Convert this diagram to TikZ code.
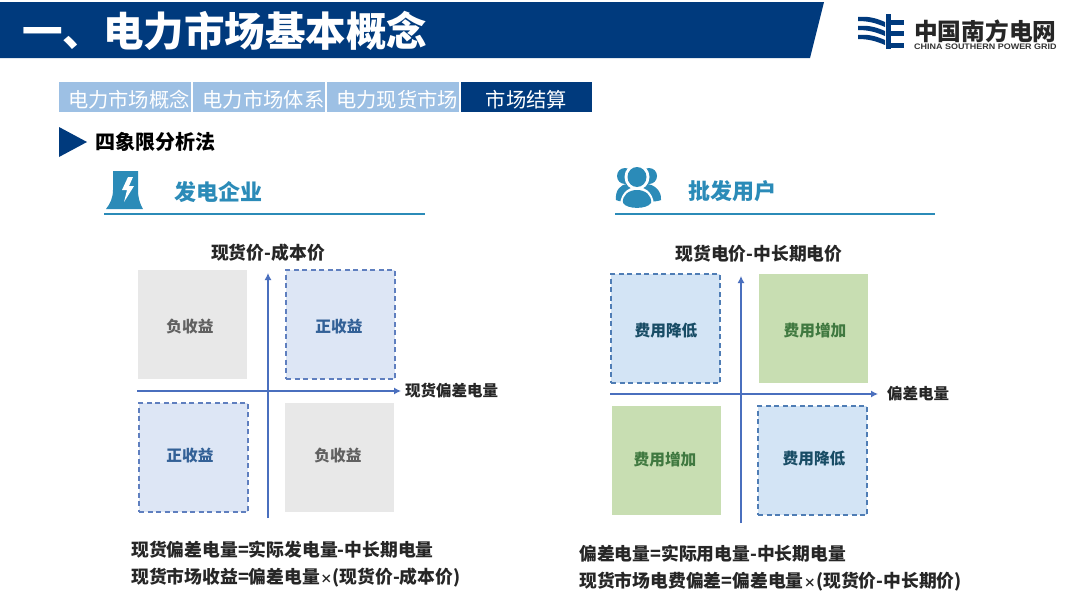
\documentclass[tikz,border=0pt]{standalone}
\usepackage{fontspec}
\setmainfont{Noto Sans CJK SC}
\newfontfamily\latinf{Liberation Sans}
\usetikzlibrary{arrows.meta}
\definecolor{navy}{HTML}{003A7D}
\definecolor{tablight}{HTML}{9DC0E4}
\definecolor{teal}{HTML}{2B8BB8}
\definecolor{axisblue}{HTML}{4A6FBE}
\definecolor{dashblue}{HTML}{5F7FBF}
\definecolor{graybox}{HTML}{E8E8E8}
\definecolor{bluebox}{HTML}{DDE6F5}
\definecolor{skybox}{HTML}{D3E4F5}
\definecolor{greenbox}{HTML}{C8DEB2}
\definecolor{dashsky}{HTML}{4F7DB5}
\definecolor{txt}{HTML}{262626}
\newcommand{\smx}{\makebox[12.5pt]{\fontsize{12}{12}\selectfont ×}}
\tikzset{
 px/.style={x=1pt,y=-1pt},
 tabbox/.style={fill=tablight,minimum width=132pt,minimum height=30pt,inner sep=0pt},
 tabtxt/.style={text=white,inner sep=0pt,font=\fontsize{20.3}{20}\selectfont},
 quad/.style={minimum width=109pt,minimum height=109pt,inner sep=0pt},
 qtext/.style={inner sep=0pt,font=\bfseries\fontsize{15.7}{16}\selectfont},
 grayq/.style={quad,fill=graybox},
 posq/.style={quad,fill=bluebox,draw=dashblue,line width=1.2pt,dash pattern=on 5pt off 3.5pt},
 lowq/.style={quad,fill=skybox,draw=dashsky,line width=1.2pt,dash pattern=on 5pt off 3.5pt},
 upq/.style={quad,fill=greenbox},
 graytxt/.style={qtext,text=black!62},
 postxt/.style={qtext,text=navy!80},
 lowtxt/.style={qtext,text=teal!55!black},
 uptxt/.style={qtext,text=green!30!black!75},
 lbl/.style={inner sep=0pt,text=txt,font=\bfseries\fontsize{17.8}{18}\selectfont},
 formula/.style={lbl,anchor=west,font=\bfseries\fontsize{17.8}{18}\selectfont},
 axis/.style={axisblue,line width=1.3pt,-{Latex[length=7pt,width=7pt]}},
 headt/.style={inner sep=0pt,anchor=west,text=teal,font=\bfseries\fontsize{22}{22}\selectfont},
 rulel/.style={teal,line width=1.5pt},
}
\begin{document}
\begin{tikzpicture}[px]
\useasboundingbox (0,0) rectangle (1080,608);
\fill[white] (0,0) rectangle (1080,608);
% title band
\fill[navy] (0,2) -- (824,2) -- (810,58) -- (0,58) -- cycle;
\node[anchor=west,inner sep=0pt,text=white,font=\bfseries\fontsize{40.5}{41}\selectfont] (title) at (22,31) {一、电力市场基本概念};
% logo
\begin{scope}[navy]
 \fill (886,14) rectangle (891,49);
 \fill (891,20) rectangle (904,25);
 \fill (891,31) rectangle (904,36);
 \fill (891,43) rectangle (904,48);
 \foreach \yy in {17,26,35}{
  \fill (858,\yy) .. controls (868,\yy-1) and (876,\yy+1) .. (885,\yy+5) -- (885,\yy+10) .. controls (876,\yy+6) and (868,\yy+4) .. (858,\yy+4) -- cycle;
 }
\end{scope}
\node[anchor=west,inner sep=0pt,text=black!85,font=\bfseries\fontsize{23.7}{24}\selectfont] (logot) at (914,31) {中国南方电网};
\node[anchor=west,inner sep=0pt,text=black!80,font=\latinf\bfseries\fontsize{8}{8}\selectfont,xscale=1.12] (logoe) at (914,46.5) {CHINA SOUTHERN POWER GRID};
% tabs
\node[tabbox] (t1) at (125,97) {};
\node[tabbox] (t2) at (259,97) {};
\node[tabbox] (t3) at (393,97) {};
\node[tabbox,fill=navy,minimum width=131pt] (t4) at (526.5,97) {};
\node[tabtxt] (t1t) at (129,100) {电力市场概念};
\node[tabtxt] (t2t) at (263.5,100) {电力市场体系};
\node[tabtxt] (t3t) at (397,100) {电力现货市场};
\node[tabtxt] (t4t) at (526.5,100) {市场结算};
% heading
\fill[navy] (59,127) -- (87,142) -- (59,157) -- cycle;
\node[anchor=west,inner sep=0pt,text=black,font=\bfseries\fontsize{20}{20}\selectfont] (hd) at (95,142) {四象限分析法};
% left header
\fill[teal] (113,171) -- (138,171) -- (138,190) .. controls (138,198) and (140,204) .. (143,209) -- (106,209) .. controls (110,204) and (113,198) .. (113,190) -- cycle;
\fill[white] (128,177) -- (122,190) -- (127,190) -- (124,202) -- (134,186) -- (129,186) -- (133,177) -- cycle;
\node[headt] (hl) at (174,192) {发电企业};
\draw[rulel] (104,214) -- (425,214);
% right header
\begin{scope}[teal]
 \fill (625,176) circle (8);
 \fill (649,176) circle (8);
 \fill (616,200) .. controls (615,191) and (620,184) .. (628,184) -- (646,184) .. controls (654,184) and (662,191) .. (661,200) .. controls (655,203) and (620,203) .. (616,200) -- cycle;
 \fill[white] (637,177) ellipse (12.5 and 13);
 \fill[white] (620,209) .. controls (619,195) and (627,187) .. (637,187) .. controls (647,187) and (655,195) .. (654,209) -- cycle;
 \fill (637,177) ellipse (9.5 and 10);
 \fill (623,203) .. controls (622,195) and (629,190) .. (637,190) .. controls (645,190) and (652,195) .. (651,203) .. controls (647,209.5) and (627,209.5) .. (623,203) -- cycle;
\end{scope}
\node[headt] (hr) at (688,191) {批发用户};
\draw[rulel] (615,214) -- (935,214);
% left quadrants
\node[grayq] (la) at (192.5,324.5) {};
\node[posq] (lb) at (340.5,324.5) {};
\node[posq] (lc) at (193.5,457.5) {};
\node[grayq] (ld) at (339.5,457.5) {};
\node[graytxt] (lat) at (190,327) {负收益};
\node[postxt] (lbt) at (339,327) {正收益};
\node[postxt] (lct) at (190,456) {正收益};
\node[graytxt] (ldt) at (338,456) {负收益};
\coordinate (lxs) at (137,391);
\coordinate (lxe) at (401,391);
\coordinate (lys) at (268,518);
\coordinate (lye) at (268,273);
\draw[axis] (lxs) -- (lxe);
\draw[axis] (lys) -- (lye);
\node[lbl] (lyl) at (268,253) {现货价-成本价};
\node[lbl,anchor=west,font=\bfseries\fontsize{15.5}{16}\selectfont] (lxl) at (405,391) {现货偏差电量};
\node[formula] (lf1) at (131,550) {现货偏差电量=实际发电量-中长期电量};
\node[formula] (lf2) at (131,578) {现货市场收益=偏差电量\smx(现货价-成本价)};
% right quadrants
\node[lowq] (ra) at (665.5,328.5) {};
\node[upq] (rb) at (813.5,328.5) {};
\node[upq] (rc) at (666.5,460.5) {};
\node[lowq] (rd) at (812.5,460.5) {};
\node[lowtxt] (rat) at (666,331) {费用降低};
\node[uptxt] (rbt) at (815,331) {费用增加};
\node[uptxt] (rct) at (665,460) {费用增加};
\node[lowtxt] (rdt) at (814,459) {费用降低};
\coordinate (rxs) at (610,394);
\coordinate (rxe) at (878,394);
\coordinate (rys) at (741,523);
\coordinate (rye) at (741,276);
\draw[axis] (rxs) -- (rxe);
\draw[axis] (rys) -- (rye);
\node[lbl] (ryl) at (759,254) {现货电价-中长期电价};
\node[lbl,anchor=west,font=\bfseries\fontsize{15.5}{16}\selectfont] (rxl) at (887,394) {偏差电量};
\node[formula] (rf1) at (579,554) {偏差电量=实际用电量-中长期电量};
\node[formula] (rf2) at (579,582) {现货市场电费偏差=偏差电量\smx(现货价-中长期价)};
\end{tikzpicture}
\end{document}
